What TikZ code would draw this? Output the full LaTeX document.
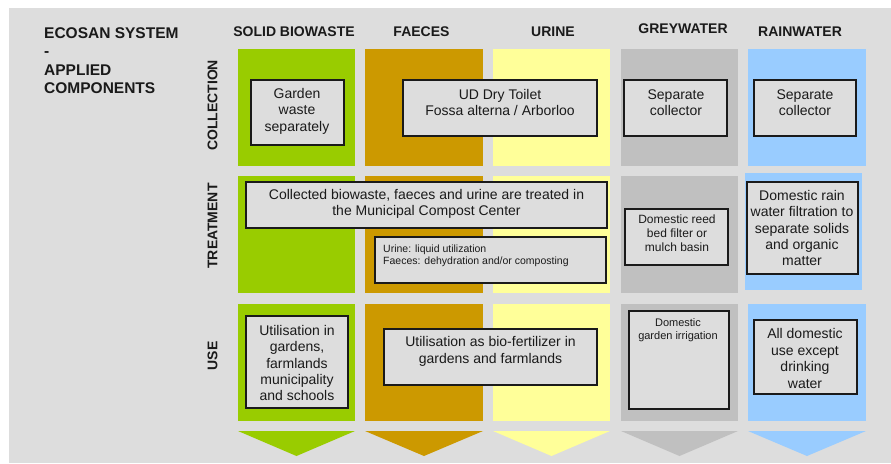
\documentclass[tikz,border=0pt]{standalone}
\usepackage{fontspec}
\setmainfont{Liberation Sans}
\definecolor{bg}{HTML}{DDDDDD}
\definecolor{cgreen}{HTML}{99CC00}
\definecolor{corange}{HTML}{CC9900}
\definecolor{cyellow}{HTML}{FFFF99}
\definecolor{cgrey}{HTML}{C0C0C0}
\definecolor{cblue}{HTML}{99CCFF}
\definecolor{ink}{HTML}{1A1A1A}
\begin{document}
\begin{tikzpicture}[x=1pt,y=-1pt,
  tbox/.style={draw=ink, line width=1.3pt, fill=bg, inner sep=0pt},
  txt/.style={align=center, inner sep=0pt, text=ink, font=\fontsize{14}{16.4}\selectfont},
  hdr/.style={inner sep=0pt, anchor=base, text=ink, font=\bfseries\fontsize{14}{16}\selectfont},
  rowlab/.style={inner sep=0pt, rotate=90, text=ink, font=\bfseries\fontsize{14}{16}\selectfont}]
\useasboundingbox (0,0) rectangle (891,463);
\fill[white] (0,0) rectangle (891,463);
\fill[bg] (9,8) rectangle (891,463);
% title
\node[inner sep=0pt, anchor=north west, align=left, text=ink,
  font=\bfseries\fontsize{15.5}{18.6}\selectfont] (title) at (44,27)
  {ECOSAN SYSTEM\\-\\APPLIED\\COMPONENTS};
% headers
\node[hdr] (hsolid) at (294,36) {SOLID BIOWASTE};
\node[hdr] (hfaeces) at (421.5,36) {FAECES};
\node[hdr] (hurine) at (553,36) {URINE};
\node[hdr] (hgrey) at (683,33.3) {GREYWATER};
\node[hdr] (hrain) at (800,36) {RAINWATER};
% row labels
\node[rowlab] (rcol) at (212.5,105.5) {COLLECTION};
\node[rowlab] (rtreat) at (212.5,226) {TREATMENT};
\node[rowlab] (ruse) at (212.5,356) {USE};
% column cells
\foreach \xa/\xb/\c in {238/355/cgreen, 365/483/corange, 493/610/cyellow, 621/738/cgrey, 748/866/cblue}{
  \fill[\c] (\xa,49) rectangle (\xb,166);
  \fill[\c] (\xa,304) rectangle (\xb,421);
  \fill[\c] (\xa,431) -- (\xb,431) -- ({(\xa+\xb)/2},456) -- cycle;
}
\foreach \xa/\xb/\c in {238/355/cgreen, 365/483/corange, 493/610/cyellow, 621/738/cgrey}{
  \fill[\c] (\xa,176) rectangle (\xb,293);
}
\fill[cblue] (745,173) rectangle (862,290);
% collection boxes
\node[tbox, minimum width=93pt, minimum height=65pt] (b1) at (297.5,112.5) {};
\node[txt] (t1) at (297,111) {Garden\\waste\\separately};
\node[tbox, minimum width=194pt, minimum height=56pt] (b2) at (500,108) {};
\node[txt] (t2) at (500,102.5) {UD Dry Toilet\\Fossa alterna / Arborloo};
\node[tbox, minimum width=103pt, minimum height=56pt] (b3) at (675.5,108) {};
\node[txt] (t3) at (676,102.5) {Separate\\collector};
\node[tbox, minimum width=102pt, minimum height=56pt] (b4) at (805,108) {};
\node[txt] (t4) at (805,102.5) {Separate\\collector};
% treatment boxes
\node[tbox, minimum width=361pt, minimum height=46pt] (b5) at (426.5,205) {};
\node[txt] (t5) at (426.5,204) {Collected biowaste, faeces and urine are treated in\\the Municipal Compost Center};
\node[tbox, minimum width=231pt, minimum height=46pt] (b6) at (490.5,260) {};
\node[txt, align=left, anchor=north west, font=\fontsize{10.5}{12.7}\selectfont] (t6) at (383,244.2)
  {Urine: liquid utilization\\Faeces: dehydration and/or composting};
\node[tbox, minimum width=103pt, minimum height=56pt] (b7) at (676.5,237) {};
\node[txt, font=\fontsize{12}{14}\selectfont] (t7) at (677,233.3) {Domestic reed\\bed filter or\\mulch basin};
\node[tbox, minimum width=111pt, minimum height=92pt] (b8) at (802.5,228) {};
\node[txt] (t8) at (802,228) {Domestic rain\\water filtration to\\separate solids\\and organic\\matter};
% use boxes
\node[tbox, minimum width=102pt, minimum height=92pt] (b9) at (297,362) {};
\node[txt] (t9) at (297,363) {Utilisation in\\gardens,\\farmlands\\municipality\\and schools};
\node[tbox, minimum width=213pt, minimum height=56pt] (b10) at (490.5,357) {};
\node[txt] (t10) at (490.5,351.5) {Utilisation as bio-fertilizer in\\gardens and farmlands};
\node[tbox, minimum width=100pt, minimum height=98pt] (b11) at (679,360) {};
\node[txt, font=\fontsize{11}{12.7}\selectfont] (t11) at (678,330) {Domestic\\garden irrigation};
\node[tbox, minimum width=103pt, minimum height=74pt] (b12) at (805.5,357) {};
\node[txt] (t12) at (805,358.5) {All domestic\\use except\\drinking\\water};
\end{tikzpicture}
\end{document}
